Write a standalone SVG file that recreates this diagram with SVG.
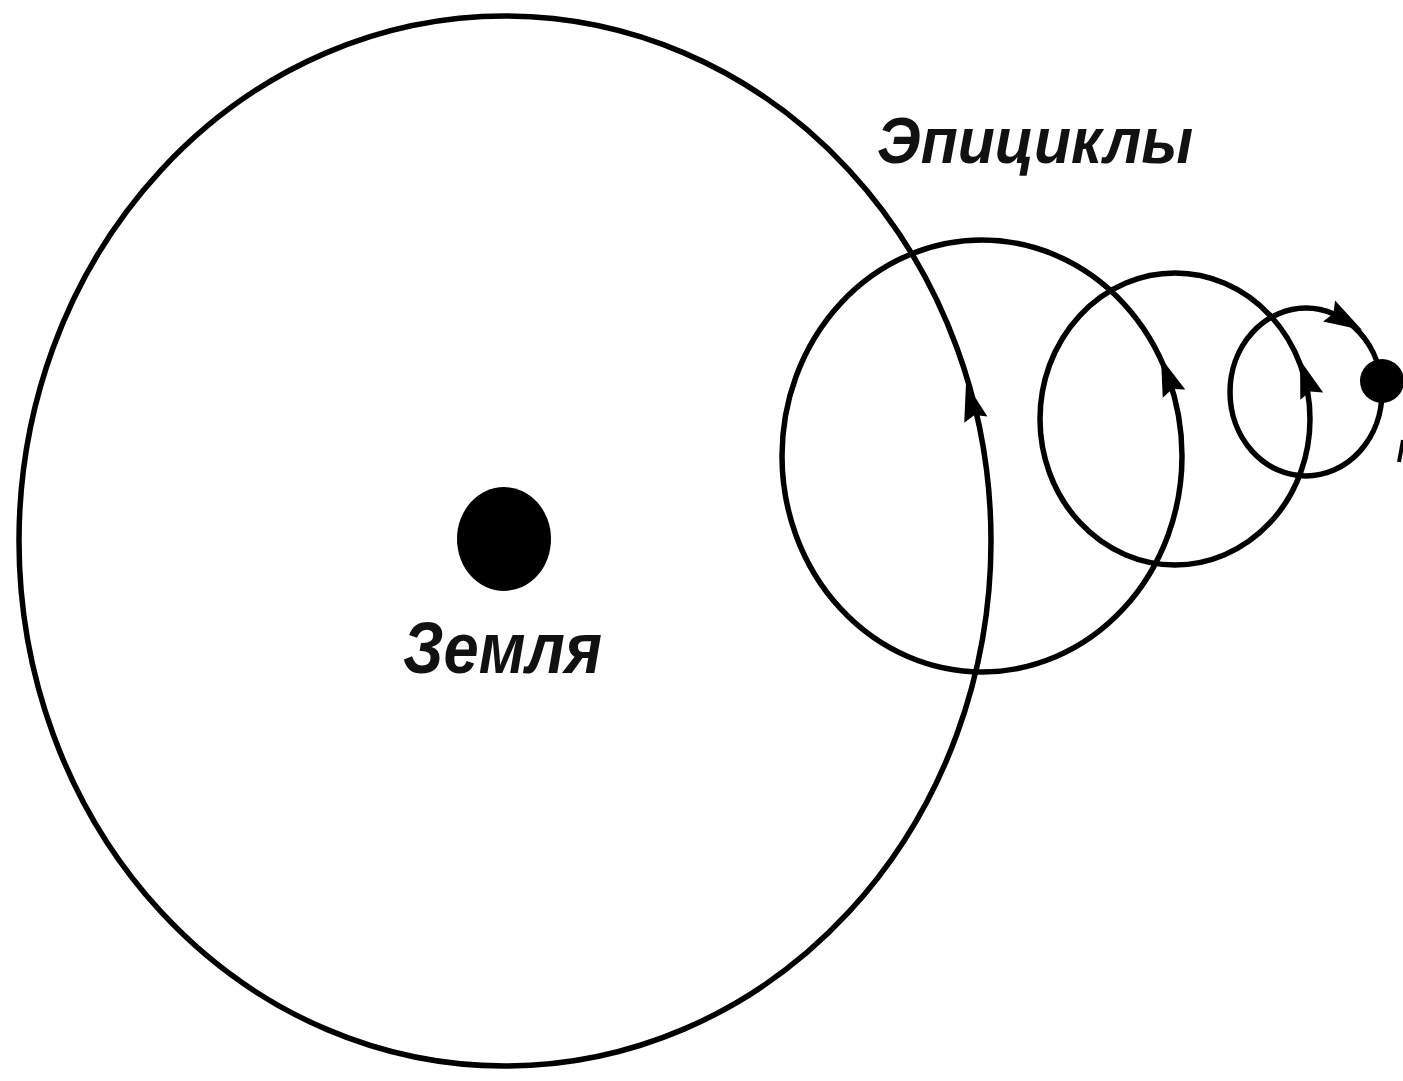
<svg xmlns="http://www.w3.org/2000/svg" xmlns:xlink="http://www.w3.org/1999/xlink" width="1403" height="1081" viewBox="0 0 1403 1081">
  <style>
    .orbit { fill: none; stroke: #000; stroke-width: 5.5; }
    .body { fill: #000; }
    .lbl { font-family: "Liberation Sans", "DejaVu Sans", sans-serif; font-style: italic; font-weight: bold; fill: #111; }
  </style>
  <defs>
    <path id="arr" d="M0,0 L-38,-12 L-33,0 L-38,12 Z" fill="#000"/>
  </defs>
  <rect width="1403" height="1081" fill="#fff"/>

  <g id="deferent">
    <ellipse class="orbit" cx="505" cy="541" rx="486" ry="525"/>
  </g>
  <g id="epicycle1">
    <ellipse class="orbit" cx="982" cy="456" rx="200" ry="216"/>
  </g>
  <g id="epicycle2">
    <ellipse class="orbit" cx="1175" cy="419" rx="135" ry="146"/>
  </g>
  <g id="epicycle3">
    <ellipse class="orbit" cx="1306" cy="392" rx="76" ry="84"/>
  </g>

  <g id="connectors">
    <use xlink:href="#arr" href="#arr" transform="translate(966,383) rotate(-105)"/>
    <use xlink:href="#arr" href="#arr" transform="translate(1161,358) rotate(-110)"/>
    <use xlink:href="#arr" href="#arr" transform="translate(1300,360) rotate(-108)"/>
    <use xlink:href="#arr" href="#arr" transform="translate(1362,330) rotate(30)"/>
  </g>

  <g id="earth">
    <ellipse class="body" cx="504" cy="539" rx="47" ry="52"/>
    <text class="lbl" x="403" y="673" font-size="72" textLength="199" lengthAdjust="spacingAndGlyphs">Земля</text>
  </g>

  <g id="planet">
    <circle class="body" cx="1382" cy="381" r="22"/>
    <path d="M1403,440 L1399,462" stroke="#000" stroke-width="4" fill="none"/>
  </g>

  <g id="epicycles-label">
    <text class="lbl" x="877" y="163" font-size="64" textLength="316" lengthAdjust="spacingAndGlyphs">Эпициклы</text>
  </g>
</svg>
